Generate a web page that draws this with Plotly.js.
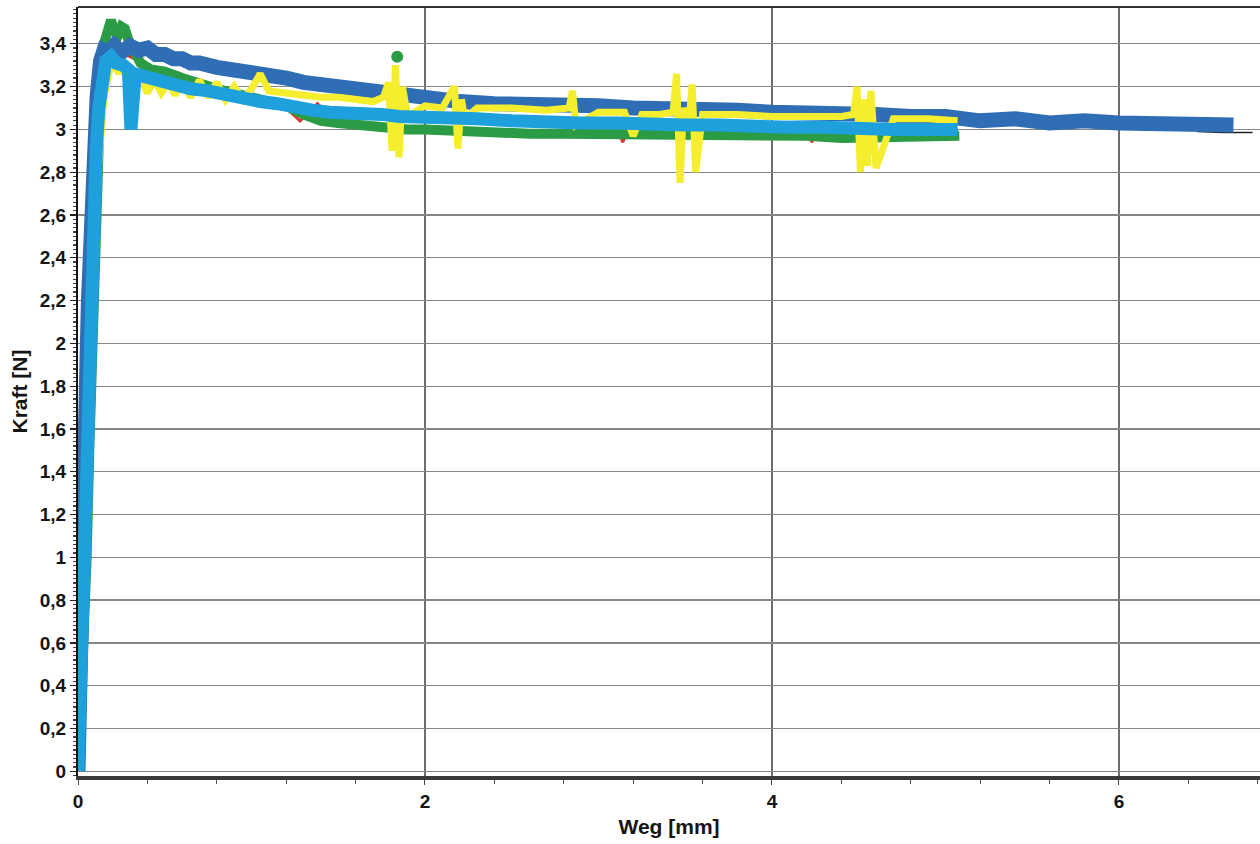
<!DOCTYPE html>
<html>
<head>
<meta charset="utf-8">
<script src="https://cdn.plot.ly/plotly-3.0.1.min.js"></script>
<style>
html,body{margin:0;padding:0;background:#fff;}
#chart{width:1260px;height:844px;}
</style>
</head>
<body>
<div id="chart"></div>
<script>
// Weg [mm] / Kraft [N]
const darkBlueX = [0, 0.005, 0.012, 0.02, 0.024, 0.028, 0.032, 0.036, 0.04, 0.05, 0.06, 0.075, 0.09, 0.11, 0.13, 0.15, 0.18, 0.21, 0.25, 0.3, 0.35, 0.4, 0.45, 0.5, 0.55, 0.6, 0.65, 0.7, 0.8, 0.9, 1.0, 1.1, 1.2, 1.3, 1.4, 1.5, 1.6, 1.7, 1.8, 1.9, 2.0, 2.1, 2.2, 2.4, 2.6, 2.8, 3.0, 3.2, 3.4, 3.6, 3.8, 4.0, 4.2, 4.4, 4.6, 4.8, 5.0, 5.2, 5.4, 5.6, 5.8, 6.0, 6.2, 6.4, 6.55, 6.66];
const darkBlueY = [0, 0.3, 0.7, 1.0, 1.12, 1.04, 1.1, 1.2, 1.45, 1.85, 2.2, 2.6, 2.9, 3.15, 3.32, 3.37, 3.36, 3.39, 3.36, 3.39, 3.37, 3.38, 3.35, 3.35, 3.33, 3.33, 3.31, 3.31, 3.29, 3.28, 3.27, 3.25, 3.24, 3.22, 3.21, 3.2, 3.18, 3.17, 3.16, 3.15, 3.14, 3.13, 3.13, 3.12, 3.12, 3.11, 3.11, 3.1, 3.1, 3.09, 3.09, 3.08, 3.08, 3.07, 3.07, 3.06, 3.06, 3.04, 3.05, 3.03, 3.04, 3.03, 3.03, 3.02, 3.03, 3.02];

const lightBlueX = [0, 0.01, 0.02, 0.03, 0.045, 0.06, 0.075, 0.09, 0.105, 0.12, 0.14, 0.16, 0.19, 0.22, 0.26, 0.29, 0.305, 0.315, 0.33, 0.37, 0.45, 0.55, 0.65, 0.75, 0.85, 0.95, 1.05, 1.15, 1.25, 1.35, 1.45, 1.55, 1.65, 1.75, 1.85, 1.95, 2.1, 2.3, 2.5, 2.7, 2.9, 3.1, 3.3, 3.5, 3.7, 3.9, 4.1, 4.3, 4.5, 4.7, 4.9, 5.07];
const lightBlueY = [0, 0.3, 0.6, 1.0, 1.45, 1.9, 2.3, 2.65, 2.9, 3.1, 3.24, 3.32, 3.34, 3.31, 3.30, 3.28, 3.0, 3.22, 3.26, 3.25, 3.23, 3.21, 3.19, 3.18, 3.16, 3.14, 3.13, 3.12, 3.10, 3.09, 3.08, 3.08, 3.07, 3.07, 3.06, 3.06, 3.05, 3.05, 3.04, 3.03, 3.03, 3.03, 3.02, 3.02, 3.02, 3.01, 3.01, 3.01, 3.00, 3.00, 3.00, 3.00];

const greenX = [0, 0.03, 0.05, 0.065, 0.085, 0.1, 0.115, 0.13, 0.15, 0.17, 0.19, 0.21, 0.23, 0.25, 0.27, 0.29, 0.32, 0.36, 0.42, 0.5, 0.6, 0.7, 0.8, 0.9, 1.0, 1.1, 1.2, 1.3, 1.4, 1.5, 1.6, 1.7, 1.8, 1.9, 2.0, 2.2, 2.4, 2.6, 2.8, 3.0, 3.2, 3.4, 3.6, 3.8, 4.0, 4.2, 4.4, 4.6, 4.8, 5.0, 5.08];
const greenY = [0, 0.5, 1.0, 1.5, 2.0, 2.5, 2.9, 3.2, 3.4, 3.48, 3.51, 3.46, 3.44, 3.48, 3.47, 3.42, 3.36, 3.31, 3.28, 3.27, 3.24, 3.21, 3.19, 3.17, 3.15, 3.13, 3.11, 3.07, 3.04, 3.03, 3.02, 3.02, 3.01, 3.0, 3.0, 2.99, 2.99, 2.98, 2.98, 2.98, 2.97, 2.97, 2.97, 2.97, 2.97, 2.97, 2.96, 2.96, 2.97, 2.97, 2.97];

const yellowX = [0, 0.03, 0.06, 0.09, 0.12, 0.15, 0.18, 0.2, 0.23, 0.26, 0.3, 0.33, 0.36, 0.4, 0.44, 0.48, 0.52, 0.56, 0.6, 0.65, 0.7, 0.75, 0.8, 0.85, 0.9, 0.95, 1.0, 1.05, 1.1, 1.2, 1.3, 1.4, 1.5, 1.6, 1.7, 1.76, 1.79, 1.81, 1.83, 1.85, 1.87, 1.9, 2.0, 2.1, 2.17, 2.19, 2.21, 2.23, 2.3, 2.5, 2.7, 2.83, 2.85, 2.87, 3.0, 3.15, 3.2, 3.25, 3.35, 3.43, 3.45, 3.47, 3.49, 3.52, 3.54, 3.56, 3.6, 3.8, 4.0, 4.2, 4.4, 4.47, 4.49, 4.51, 4.53, 4.55, 4.57, 4.6, 4.7, 4.9, 5.07];
const yellowY = [0, 0.8, 1.6, 2.3, 2.85, 3.15, 3.27, 3.31, 3.27, 3.27, 3.25, 3.18, 3.24, 3.17, 3.23, 3.17, 3.22, 3.16, 3.22, 3.15, 3.23, 3.15, 3.22, 3.14, 3.2, 3.14, 3.19, 3.26, 3.18, 3.17, 3.16, 3.15, 3.15, 3.14, 3.13, 3.15, 3.22, 2.9, 3.3, 2.87, 3.2, 3.06, 3.11, 3.1, 3.2, 2.91, 3.14, 3.05, 3.1, 3.1, 3.09, 3.1, 3.18, 3.02, 3.08, 3.08, 2.97, 3.07, 3.07, 3.08, 3.26, 2.75, 3.1, 3.02, 3.21, 2.8, 3.07, 3.07, 3.06, 3.06, 3.06, 3.07, 3.2, 2.8, 3.14, 2.83, 3.18, 2.82, 3.05, 3.05, 3.04, 3.02];

const redX = [0, 0.05, 0.1, 0.15, 0.2, 0.4, 0.8, 1.2, 1.28, 1.33, 1.38, 1.43, 2.0, 2.6, 3.1, 3.14, 3.18, 3.6, 4.2, 4.23, 4.26, 4.8, 5.07];
const redY = [0, 1.6, 2.8, 3.3, 3.38, 3.3, 3.2, 3.1, 3.04, 3.08, 3.12, 3.08, 3.05, 3.04, 3.03, 2.94, 3.02, 3.02, 3.01, 2.94, 3.01, 3.0, 3.0];

const blackX = [6.45, 6.6, 6.77];
const blackY = [2.99, 2.985, 2.985];

const greenDotX = [1.84];
const greenDotY = [3.34];

const xTicks = [0, 2, 4, 6];
const yTicks = [0, 0.2, 0.4, 0.6, 0.8, 1, 1.2, 1.4, 1.6, 1.8, 2, 2.2, 2.4, 2.6, 2.8, 3, 3.2, 3.4];

const traces = [
  {x: redX, y: redY, mode: 'lines', line: {color: '#d8372a', width: 3}},
  {x: blackX, y: blackY, mode: 'lines', line: {color: '#222222', width: 1.5}},
  {x: greenX, y: greenY, mode: 'lines', line: {color: '#2b9b45', width: 10}},
  {x: darkBlueX, y: darkBlueY, mode: 'lines', line: {color: '#2f6db4', width: 15}},
  {x: yellowX, y: yellowY, mode: 'lines', line: {color: '#f4ee2e', width: 7}},
  {x: lightBlueX, y: lightBlueY, mode: 'lines', line: {color: '#1ea0dc', width: 13}},
  {x: greenDotX, y: greenDotY, mode: 'markers', marker: {color: '#2b9b45', size: 12}}
];

const tickFont = {family: 'Liberation Sans, Arial, sans-serif', size: 19, color: '#151515', weight: 'bold'};
const titleFont = {family: 'Liberation Sans, Arial, sans-serif', size: 21, color: '#151515', weight: 'bold'};

const layout = {
  width: 1260, height: 844,
  margin: {l: 78, r: 0, t: 7, b: 68},
  paper_bgcolor: '#ffffff', plot_bgcolor: '#ffffff',
  showlegend: false,
  separators: ',.',
  xaxis: {
    range: [0, 6.813],
    tickvals: xTicks,
    ticks: 'outside', ticklen: 5, tickcolor: '#444', tickwidth: 1,
    tickfont: tickFont,
    showgrid: true, gridcolor: '#6e6e6e', gridwidth: 1.3,
    zeroline: false,
    showline: true, linecolor: '#3a3a3a', linewidth: 4,
    minor: {dtick: 0.4, ticks: 'outside', ticklen: 4, tickcolor: '#555', showgrid: false},
    title: {text: 'Weg [mm]', font: titleFont, standoff: 10}
  },
  yaxis: {
    range: [-0.022, 3.572],
    tickvals: yTicks,
    ticks: 'outside', ticklen: 6, tickcolor: '#222', tickwidth: 1.2,
    tickfont: tickFont,
    showgrid: true, gridcolor: '#858585', gridwidth: 1.3,
    zeroline: false,
    showline: true, linecolor: '#111', linewidth: 2,
    minor: {dtick: 0.02, ticks: 'outside', ticklen: 3, tickcolor: '#444', showgrid: false},
    title: {text: 'Kraft [N]', font: titleFont, standoff: 6}
  },
  shapes: [
    {type: 'line', xref: 'paper', yref: 'paper', x0: 0, x1: 1, y0: 1, y1: 1, line: {color: '#333', width: 2}}
  ]
};

Plotly.newPlot('chart', traces, layout, {displayModeBar: false, staticPlot: true});
</script>
</body>
</html>
